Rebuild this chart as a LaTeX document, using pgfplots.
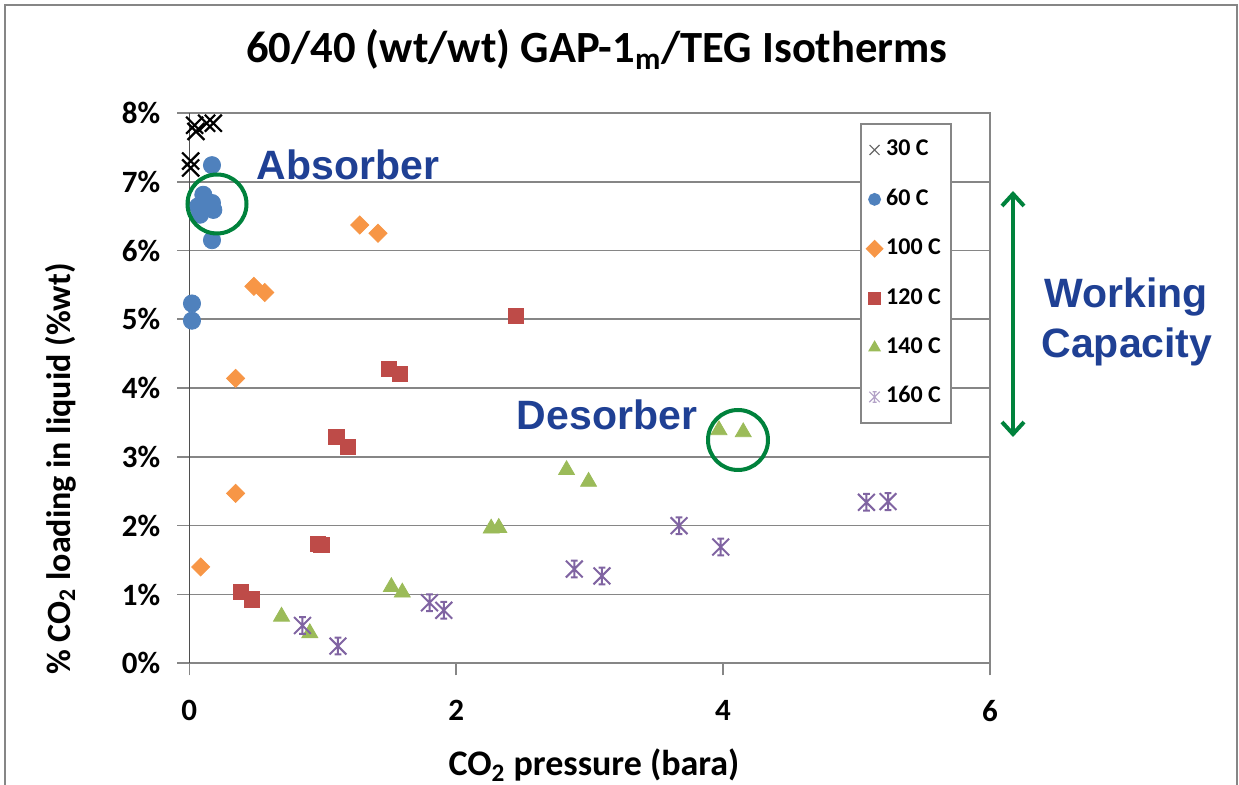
\documentclass[border=0pt]{standalone}
\usepackage{pgfplots}
\pgfplotsset{compat=1.18}
\usepackage{fontspec}
\setmainfont{Carlito}
\newfontfamily\arialbold{Liberation Sans}[BoldFont={* Bold}]
\usetikzlibrary{arrows.meta}

\definecolor{gridgray}{RGB}{134,134,134}
\definecolor{s60}{RGB}{79,129,189}
\definecolor{s100}{RGB}{247,150,70}
\definecolor{s120}{RGB}{190,75,72}
\definecolor{s140}{RGB}{155,187,89}
\definecolor{s160}{RGB}{128,100,162}
\definecolor{annblue}{RGB}{31,64,148}
\definecolor{anngreen}{RGB}{0,130,60}

% Excel-like star marker: x + vertical bar with small caps
\pgfdeclareplotmark{xstar}{%
  \pgfpathmoveto{\pgfpoint{-\pgfplotmarksize}{-\pgfplotmarksize}}%
  \pgfpathlineto{\pgfpoint{\pgfplotmarksize}{\pgfplotmarksize}}%
  \pgfpathmoveto{\pgfpoint{-\pgfplotmarksize}{\pgfplotmarksize}}%
  \pgfpathlineto{\pgfpoint{\pgfplotmarksize}{-\pgfplotmarksize}}%
  \pgfpathmoveto{\pgfpoint{0pt}{-\pgfplotmarksize}}%
  \pgfpathlineto{\pgfpoint{0pt}{\pgfplotmarksize}}%
  \pgfpathmoveto{\pgfpoint{-0.4\pgfplotmarksize}{\pgfplotmarksize}}%
  \pgfpathlineto{\pgfpoint{0.4\pgfplotmarksize}{\pgfplotmarksize}}%
  \pgfpathmoveto{\pgfpoint{-0.4\pgfplotmarksize}{-\pgfplotmarksize}}%
  \pgfpathlineto{\pgfpoint{0.4\pgfplotmarksize}{-\pgfplotmarksize}}%
  \pgfusepathqstroke}

\begin{document}
\begin{tikzpicture}
% page = 1239 x 785 px, 1 px = 0.5 pt
\path[use as bounding box] (0,0) rectangle (619.5pt,-392.5pt);
\draw[gridgray, line width=1pt] (2.5pt,-2.5pt) rectangle (618.5pt,-400pt);

\begin{axis}[
  at={(94.65pt,-331.65pt)}, anchor=south west,
  scale only axis, width=400.35pt, height=275.2pt,
  xmin=0, xmax=6, ymin=0, ymax=8,
  xtick={0,2,4,6}, ytick={0,1,...,8},
  yticklabel={\pgfmathprintnumber{\tick}\%},
  /pgf/number format/assume math mode=true,
  ymajorgrids,
  major grid style={draw=gridgray, line width=0.8pt},
  axis line style={draw=gridgray, line width=0.8pt},
  tick style={draw=gridgray, line width=0.8pt},
  tick align=outside, major tick length=6pt,
  xtick pos=left, ytick pos=left,
  ticklabel style={font=\bfseries\fontsize{15.5}{18}\selectfont},
  yticklabel style={xshift=-5pt},
  xticklabel style={yshift=-9pt},
  legend style={at={(0.8376,0.9817)}, anchor=north west,
    draw=gridgray, line width=1pt, fill=white,
    font=\bfseries\fontsize{12}{14}\selectfont,
    inner xsep=3pt, inner ysep=5pt, row sep=8.7pt,
    nodes={inner sep=2pt, text height=9pt, text depth=3pt},
    cells={anchor=west}},
  legend image code/.code={\draw[#1, mark size=2.7pt] plot coordinates {(0.2cm,0cm)};},
]
\draw[black!80, line width=0.8pt] (rel axis cs:0,0) -- (rel axis cs:0,1);

\addplot[only marks, mark=x, mark size=6pt, line width=1.1pt, black,
  legend image code/.code={\draw[black!60, line width=0.6pt, mark=x, mark size=3.5pt] plot coordinates {(0.2cm,0cm)};}] coordinates {
  (0.01,7.30) (0.01,7.20) (0.05,7.73) (0.04,7.82) (0.13,7.85) (0.18,7.85)
};
\addlegendentry{30 C}
\addplot[only marks, mark=*, mark size=4.3pt, draw=s60, fill=s60] coordinates {
  (0.17,7.24) (0.105,6.81) (0.17,6.69) (0.065,6.64) (0.18,6.59) (0.08,6.52)
  (0.17,6.15) (0.02,5.23) (0.02,4.98)
};
\addlegendentry{60 C}
\addplot[only marks, mark=square*, mark options={rotate=45}, mark size=3.2pt, draw=s100, fill=s100] coordinates {
  (1.277,6.37) (1.414,6.25) (0.484,5.48) (0.566,5.39) (0.347,4.14)
  (0.347,2.47) (0.085,1.40)
};
\addlegendentry{100 C}
\addplot[only marks, mark=square*, mark size=3.8pt, draw=s120, fill=s120] coordinates {
  (2.449,5.05) (1.494,4.28) (1.576,4.21) (1.102,3.29) (1.189,3.15)
  (0.965,1.73) (0.99,1.72) (0.384,1.04) (0.467,0.93)
};
\addlegendentry{120 C}
\addplot[only marks, mark=triangle*, mark size=4.6pt, draw=s140, fill=s140] coordinates {
  (0.691,0.68) (0.903,0.44) (1.514,1.11) (1.596,1.03) (2.262,1.96) (2.319,1.97)
  (2.827,2.81) (2.992,2.64) (3.969,3.39) (4.151,3.36)
};
\addlegendentry{140 C}
\addplot[only marks, mark=xstar, mark size=4.2pt, line width=1pt, s160,
  legend image code/.code={\draw[s160!60, line width=0.6pt, mark=xstar, mark size=2.6pt] plot coordinates {(0.2cm,0cm)};}] coordinates {
  (0.848,0.55) (1.114,0.25) (1.80,0.88) (1.907,0.77) (2.885,1.37) (3.092,1.27)
  (3.67,2.00) (3.982,1.69) (5.074,2.34) (5.236,2.35)
};
\addlegendentry{160 C}
\end{axis}

\begin{scope}[x=0.5pt, y=-0.5pt]
  \node[anchor=base, font=\bfseries\fontsize{22.3}{26}\selectfont] at (597,63)
    {60/40 (wt/wt) GAP-1\textsubscript{m}/TEG Isotherms};
  \node[anchor=base, font=\bfseries\fontsize{18}{21}\selectfont] at (594,776)
    {CO\textsubscript{2} pressure (bara)};
  \node[anchor=base, rotate=90, font=\bfseries\fontsize{17}{20}\selectfont] at (70,469)
    {\% CO\textsubscript{2} loading in liquid (\%wt)};
  \node[anchor=base, text=annblue, font=\arialbold\bfseries\fontsize{20.5}{24}\selectfont] at (348,180) {Absorber};
  \node[anchor=base, text=annblue, font=\arialbold\bfseries\fontsize{20.5}{24}\selectfont] at (607,430) {Desorber};
  \node[anchor=base, text=annblue, font=\arialbold\bfseries\fontsize{20.5}{24}\selectfont] at (1126,308) {Working};
  \node[anchor=base, text=annblue, font=\arialbold\bfseries\fontsize{20.5}{24}\selectfont] at (1127,358) {Capacity};
  \draw[anngreen, line width=2pt] (217,204) circle (29.5);
  \draw[anngreen, line width=2pt] (738,440) circle (30);
  \draw[anngreen, line width=2pt, {Straight Barb[length=6pt,width=11pt]}-{Straight Barb[length=6pt,width=11pt]}] (1013,191) -- (1013,437);
\end{scope}
\end{tikzpicture}
\end{document}
